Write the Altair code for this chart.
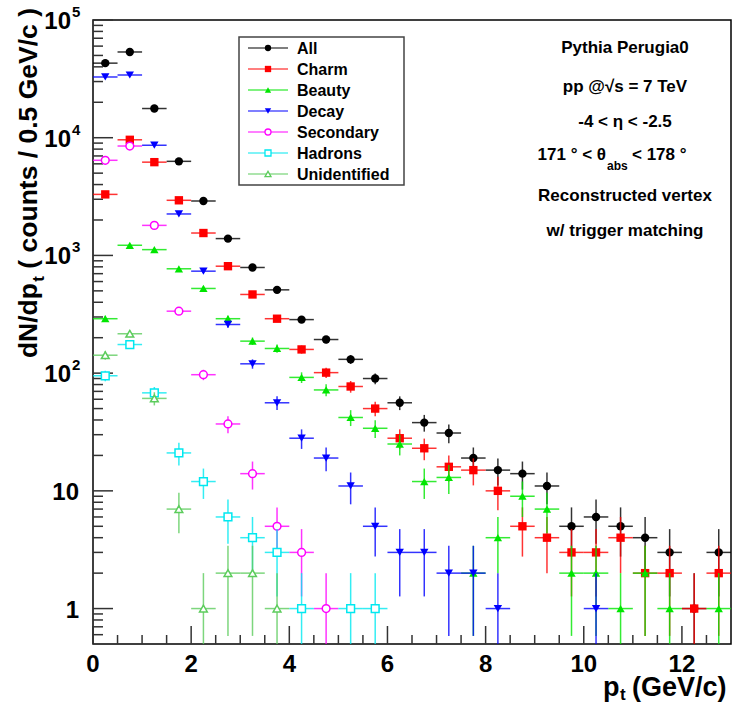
import altair as alt
import pandas as pd
import numpy as np

# ---------------- data ----------------
bin_centers = [0.25, 0.75, 1.25, 1.75, 2.25, 2.75, 3.25, 3.75, 4.25, 4.75, 5.25, 5.75, 6.25,
               6.75, 7.25, 7.75, 8.25, 8.75, 9.25, 9.75, 10.25, 10.75, 11.25, 11.75, 12.25, 12.75]
bin_half_width = 0.25

counts_all = [43000, 53500, 17700, 6300, 2900, 1390, 790, 510, 285, 193, 131, 90, 56,
              38, 31, 19, 15, 14, 11, 5, 6, 5, 4, 3, 1, 3]
counts_charm = [3300, 9600, 6200, 2940, 1550, 810, 466, 290, 159, 101, 77, 50, 28,
                23, 16, 15, 10, 5, 4, 3, 3, 4, 2, 2, 1, 2]
counts_beauty = [290, 1220, 1120, 770, 524, 290, 187, 162, 92, 72, 42, 34, 25,
                 12, 13, 2, 4, 9, 7, 2, 2, 1, 2, 1, None, 1]
counts_decay = [32800, 34100, 8630, 2250, 735, 259, 120, 56, 28, 19, 11, 5, 3,
                3, 2, 2, 1, None, None, None, 1, None, None, None, None, None]
counts_secondary = [6430, 8500, 1800, 336, 97, 37, 14, 5, 3, 1, None, None, None,
                    None, None, None, None, None, None, None, None, None, None, None, None, None]
counts_hadrons = [95, 175, 68, 21, 12, 6, 4, 3, 1, None, 1, 1, None,
                  None, None, None, None, None, None, None, None, None, None, None, None, None]
counts_unidentified = [142, 216, 61, 7, 1, 2, 2, 1, None, None, None, None, None,
                       None, None, None, None, None, None, None, None, None, None, None, None, None]

series_names = ["All", "Charm", "Beauty", "Decay", "Secondary", "Hadrons", "Unidentified"]
series_counts = [counts_all, counts_charm, counts_beauty, counts_decay,
                 counts_secondary, counts_hadrons, counts_unidentified]
series_colors = ["#000000", "#ff0000", "#00e600", "#0000ff", "#ff00ff", "#00e8f0", "#5ccc5c"]
series_shapes = ["circle", "square", "triangle-up", "triangle-down", "circle", "square", "triangle-up"]
series_filled = [True, True, True, True, False, False, False]

y_major_ticks = [1, 10, 100, 1000, 10000, 100000]
y_minor_ticks = [0.6, 0.7, 0.8, 0.9] + [k * 10 ** d for d in range(0, 5) for k in range(2, 10)]
x_major_ticks = [0, 2, 4, 6, 8, 10, 12]
x_minor_ticks = [v / 2 for v in range(1, 26) if v % 4 != 0]
x_tick_labels = ["0", "2", "4", "6", "8", "10", "12"]
y_pow_values = [100, 1000, 10000, 100000]
y_pow_exps = ["2", "3", "4", "5"]
y_plain_values = [10, 1]
y_plain_labels = ["10", "1"]

info_lines = ["Pythia Perugia0", "pp @\u221as = 7 TeV", "-4 < \u03b7 < -2.5",
              None, "Reconstructed vertex", "w/ trigger matching"]

# ---------------- layout ----------------
W, H = 638, 624
FONT = "Liberation Sans"

xs = alt.Scale(domain=[0, 13], nice=False, zero=False)
ys = alt.Scale(type="log", domain=[0.5, 100000], nice=False)

layers = []

# ticks (inside the frame)
ymaj = pd.DataFrame({"v": y_major_ticks})
ymin = pd.DataFrame({"v": y_minor_ticks})
layers.append(alt.Chart(ymaj).mark_rule(color="#333", strokeWidth=1.5).encode(
    y=alt.Y("v:Q", scale=ys, axis=None), x=alt.value(0), x2=alt.value(20)))
layers.append(alt.Chart(ymin).mark_rule(color="#333", strokeWidth=1.5).encode(
    y=alt.Y("v:Q", scale=ys, axis=None), x=alt.value(0), x2=alt.value(10)))
xmaj = pd.DataFrame({"v": x_major_ticks, "lab": x_tick_labels})
xmin = pd.DataFrame({"v": x_minor_ticks})
layers.append(alt.Chart(xmaj).mark_rule(color="#333", strokeWidth=1.5).encode(
    x=alt.X("v:Q", scale=xs, axis=None), y=alt.value(H), y2=alt.value(H - 18)))
layers.append(alt.Chart(xmin).mark_rule(color="#333", strokeWidth=1.5).encode(
    x=alt.X("v:Q", scale=xs, axis=None), y=alt.value(H), y2=alt.value(H - 9)))

# tick labels
layers.append(alt.Chart(xmaj).mark_text(font=FONT, fontWeight="bold", fontSize=24,
                                        baseline="middle", align="center", color="#000").encode(
    x=alt.X("v:Q", scale=xs, axis=None), y=alt.value(H + 21), text="lab:N"))
ypow = pd.DataFrame({"v": y_pow_values, "e": y_pow_exps, "b": ["10"] * 4})
layers.append(alt.Chart(ypow).mark_text(font=FONT, fontWeight="bold", fontSize=24,
                                        baseline="middle", align="right", dy=2, color="#000").encode(
    y=alt.Y("v:Q", scale=ys, axis=None), x=alt.value(-22), text="b:N"))
layers.append(alt.Chart(ypow).mark_text(font=FONT, fontWeight="bold", fontSize=15,
                                        baseline="middle", align="left", dy=-8, dx=1, color="#000").encode(
    y=alt.Y("v:Q", scale=ys, axis=None), x=alt.value(-22), text="e:N"))
yplain = pd.DataFrame({"v": y_plain_values, "lab": y_plain_labels})
layers.append(alt.Chart(yplain).mark_text(font=FONT, fontWeight="bold", fontSize=24,
                                          baseline="middle", align="right", dy=2, color="#000").encode(
    y=alt.Y("v:Q", scale=ys, axis=None), x=alt.value(-14), text="lab:N"))

# data series: error bars + markers
for name, cnts, col, shp, fil in zip(series_names, series_counts, series_colors,
                                     series_shapes, series_filled):
    rows = []
    for c, n in zip(bin_centers, cnts):
        if n is None:
            continue
        e = float(np.sqrt(n))
        lo = n - e
        if lo <= 0:
            lo = 0.05
        rows.append({"c": c, "n": n, "lo": lo, "hi": n + e,
                     "xl": c - bin_half_width, "xh": c + bin_half_width})
    df = pd.DataFrame(rows)
    base = alt.Chart(df)
    layers.append(base.mark_rule(color=col, strokeWidth=1.5, opacity=0.8, clip=True).encode(
        x=alt.X("c:Q", scale=xs, axis=None),
        y=alt.Y("lo:Q", scale=ys, axis=None), y2="hi:Q"))
    layers.append(base.mark_rule(color=col, strokeWidth=1.5, opacity=0.8, clip=True).encode(
        x=alt.X("xl:Q", scale=xs, axis=None), x2="xh:Q",
        y=alt.Y("n:Q", scale=ys, axis=None)))
    if fil:
        pm = base.mark_point(shape=shp, filled=True, color=col, size=70, opacity=1, clip=True)
    else:
        pm = base.mark_point(shape=shp, filled=True, fill="white", stroke=col, strokeWidth=1.5,
                             size=60, opacity=1, clip=True)
    layers.append(pm.encode(x=alt.X("c:Q", scale=xs, axis=None),
                            y=alt.Y("n:Q", scale=ys, axis=None)))

one = pd.DataFrame({"k": [0]})

# legend box
layers.append(alt.Chart(one).mark_rect(fill="white", stroke="#444", strokeWidth=1.5).encode(
    x=alt.value(146), x2=alt.value(311), y=alt.value(17), y2=alt.value(165)))
for i, (name, col, shp, fil) in enumerate(zip(series_names, series_colors, series_shapes, series_filled)):
    yy = 28 + 21 * i
    layers.append(alt.Chart(one).mark_rule(color=col, strokeWidth=1.2).encode(
        x=alt.value(155), x2=alt.value(195), y=alt.value(yy)))
    if fil:
        pm = alt.Chart(one).mark_point(shape=shp, filled=True, color=col, size=40, opacity=1)
    else:
        pm = alt.Chart(one).mark_point(shape=shp, filled=True, fill="white", stroke=col,
                                       strokeWidth=1.3, size=36, opacity=1)
    layers.append(pm.encode(x=alt.value(175), y=alt.value(yy)))
    layers.append(alt.Chart(one).mark_text(text=name, font=FONT, fontWeight="bold", fontSize=16,
                                           align="left", baseline="middle", color="#000").encode(
        x=alt.value(204), y=alt.value(yy + 1)))

# info text block
info_y = [28, 67, 102, 135, 176, 211]
for txt, yy in zip(info_lines, info_y):
    if txt is None:
        continue
    layers.append(alt.Chart(one).mark_text(text=txt, font=FONT, fontWeight="bold", fontSize=17,
                                           align="center", baseline="middle", color="#000").encode(
        x=alt.value(532), y=alt.value(yy)))
layers.append(alt.Chart(one).mark_text(text="171 \u00b0 < \u03b8", font=FONT, fontWeight="bold",
                                       fontSize=17, align="right", baseline="middle", color="#000").encode(
    x=alt.value(513), y=alt.value(135)))
layers.append(alt.Chart(one).mark_text(text="abs", font=FONT, fontWeight="bold",
                                       fontSize=12, align="left", baseline="middle", color="#000").encode(
    x=alt.value(514), y=alt.value(146)))
layers.append(alt.Chart(one).mark_text(text="< 178 \u00b0", font=FONT, fontWeight="bold",
                                       fontSize=17, align="left", baseline="middle", color="#000").encode(
    x=alt.value(539), y=alt.value(135)))

# axis titles
TS = 26.5
layers.append(alt.Chart(one).mark_text(text=" ( counts / 0.5 GeV/c )", font=FONT, fontWeight="bold",
                                       fontSize=TS, angle=270, align="right", baseline="alphabetic",
                                       color="#000").encode(x=alt.value(-56), y=alt.value(-12)))
w3 = 10.115 * TS
layers.append(alt.Chart(one).mark_text(text="t", font=FONT, fontWeight="bold",
                                       fontSize=17, angle=270, align="right", baseline="alphabetic",
                                       color="#000").encode(x=alt.value(-49), y=alt.value(-12 + w3)))
layers.append(alt.Chart(one).mark_text(text="dN/dp", font=FONT, fontWeight="bold",
                                       fontSize=TS, angle=270, align="right", baseline="alphabetic",
                                       color="#000").encode(x=alt.value(-56), y=alt.value(-12 + w3 + 7)))

XT = 27
layers.append(alt.Chart(one).mark_text(text="p", font=FONT, fontWeight="bold",
                                       fontSize=XT, align="left", baseline="alphabetic",
                                       color="#000").encode(x=alt.value(510), y=alt.value(676)))
layers.append(alt.Chart(one).mark_text(text="t", font=FONT, fontWeight="bold",
                                       fontSize=17, align="left", baseline="alphabetic",
                                       color="#000").encode(x=alt.value(527), y=alt.value(680)))
layers.append(alt.Chart(one).mark_text(text="(GeV/c)", font=FONT, fontWeight="bold",
                                       fontSize=XT, align="left", baseline="alphabetic",
                                       color="#000").encode(x=alt.value(539), y=alt.value(676)))

chart = alt.layer(*layers).properties(
    width=W, height=H,
    autosize=alt.AutoSizeParams(type="none"),
    padding={"left": 93, "top": 20, "right": 1, "bottom": 60},
    background="white",
).configure_view(stroke="#000", strokeWidth=1.5)

chart.save("out.html", embed_options={"renderer": "svg", "actions": False})
